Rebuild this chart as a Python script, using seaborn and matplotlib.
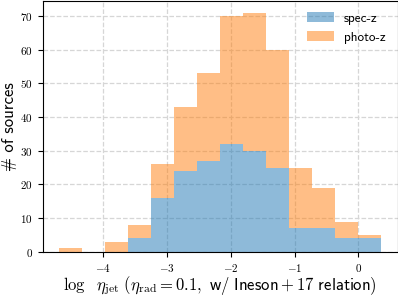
import matplotlib
matplotlib.use('Agg')
import matplotlib.pyplot as plt
import matplotlib.font_manager as fm
import seaborn as sns
import numpy as np
import pandas as pd
from pathlib import Path
from matplotlib.patches import Patch

# histogram data (counts per bin)
bin_left = -4.69
bin_right = 0.36
n_bins = 14
spec_counts = [0, 0, 0, 4, 16, 24, 27, 32, 30, 25, 7, 7, 4, 4]
photo_counts = [1, 0, 3, 4, 10, 19, 26, 38, 41, 35, 18, 12, 5, 1]
samples = ['spec-z', 'photo-z']
x_ticks = [-4, -3, -2, -1, 0]
x_ticklabels = ['$-4$', '$-3$', '$-2$', '$-1$', '$0$']
y_ticks = [0, 10, 20, 30, 40, 50, 60, 70]
y_ticklabels = ['$0$', '$10$', '$20$', '$30$', '$40$', '$50$', '$60$', '$70$']

# Computer Modern sans shipped with matplotlib, for the plain text
cmss = Path(matplotlib.get_data_path()) / 'fonts' / 'ttf' / 'cmss10.ttf'
fm.fontManager.addfont(str(cmss))
plt.rcParams['mathtext.fontset'] = 'cm'
plt.rcParams['font.family'] = ['cmss10', 'DejaVu Sans']

edges = np.linspace(bin_left, bin_right, n_bins + 1)
centers = 0.5 * (edges[:-1] + edges[1:])
df = pd.DataFrame({
    'x': np.concatenate([centers, centers]),
    'n': spec_counts + photo_counts,
    'sample': [samples[0]] * n_bins + [samples[1]] * n_bins,
})

colors = {'spec-z': '#1f77b4', 'photo-z': '#ff7f0e'}

fig, ax = plt.subplots(figsize=(3.98, 2.97), dpi=100)
fig.subplots_adjust(left=0.107, right=0.999, bottom=0.152, top=0.998)

# photo-z listed first so that seaborn stacks it on top of spec-z
sns.histplot(data=df, x='x', weights='n', hue='sample', hue_order=['photo-z', 'spec-z'],
             multiple='stack', bins=list(edges), palette=colors, alpha=0.5,
             linewidth=0, edgecolor='none', legend=False, ax=ax)

ax.set_xticks(x_ticks)
ax.set_xticklabels(x_ticklabels, fontsize=8)
ax.set_yticks(y_ticks)
ax.set_yticklabels(y_ticklabels, fontsize=8)
ax.grid(True, linestyle='--', color='#d6d6d6', linewidth=0.9)
ax.set_axisbelow(True)

ax.set_xlabel(r'$\log\ \ \eta_{\rm jet}\ (\eta_{\rm rad} = 0.1,\ \mathsf{w/\ Ineson}+\mathsf{17\ relation)}$',
              fontsize=12, labelpad=0)
ax.set_ylabel('# of sources', fontsize=12, labelpad=2)

handles = [Patch(facecolor=colors[s], alpha=0.5) for s in samples]
ax.legend(handles, samples, loc='upper right', frameon=False, fontsize=9.5)

plt.savefig('out.png', dpi=100)
plt.close()
